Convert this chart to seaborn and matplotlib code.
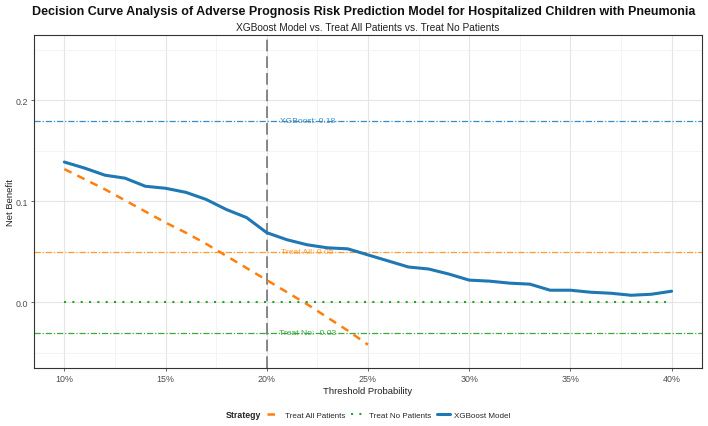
import numpy as np
import pandas as pd
import matplotlib
matplotlib.use("Agg")
import matplotlib.pyplot as plt
import seaborn as sns
from matplotlib.lines import Line2D

# ---- data ----
thresholds = [10, 11, 12, 13, 14, 15, 16, 17, 18, 19, 20, 21, 22, 23, 24, 25,
              26, 27, 28, 29, 30, 31, 32, 33, 34, 35, 36, 37, 38, 39, 40]
xgb_nb = [0.139, 0.133, 0.126, 0.123, 0.115, 0.113, 0.109, 0.102, 0.092, 0.084,
          0.069, 0.062, 0.057, 0.054, 0.053, 0.047, 0.041, 0.035, 0.033, 0.028,
          0.022, 0.021, 0.019, 0.018, 0.012, 0.012, 0.010, 0.009, 0.007, 0.008, 0.011]
all_thresholds = [10, 11, 12, 13, 14, 15, 16, 17, 18, 19, 20, 21, 22, 23, 24, 25]
treat_all_nb = [0.132, 0.122, 0.112, 0.101, 0.090, 0.079, 0.069, 0.058, 0.046,
                0.034, 0.022, 0.010, -0.002, -0.015, -0.028, -0.042]
treat_none_nb = [0.0] * len(thresholds)
ref_labels = ["XGBoost: 0.18", "Treat All: 0.05", "Treat No: -0.03"]
ref_values = [0.18, 0.05, -0.03]
vline_x = 20
x_ticks = [10, 15, 20, 25, 30, 35, 40]
x_ticklabels = ["10%", "15%", "20%", "25%", "30%", "35%", "40%"]
y_ticks = [0.0, 0.1, 0.2]
y_ticklabels = ["0.0", "0.1", "0.2"]

c_blue = "#1f77b4"
c_orange = "#ff7f0e"
c_green = "#2ca02c"

sns.set_theme(style="whitegrid")
plt.rcParams["font.family"] = ["Liberation Sans", "DejaVu Sans"]

fig = plt.figure(figsize=(7.08, 4.27), dpi=100)
ax = fig.add_axes([0.048, 0.136, 0.9435, 0.78])

df_xgb = pd.DataFrame({"t": thresholds, "nb": xgb_nb})
df_all = pd.DataFrame({"t": all_thresholds, "nb": treat_all_nb})
df_none = pd.DataFrame({"t": thresholds, "nb": treat_none_nb})

# reference lines
ref_line_colors = ["#3a8cc4", "#ff9a30", "#3aaa3a"]
for lab, v, c in zip(ref_labels, ref_values, ref_line_colors):
    ax.axhline(v, color=c, lw=0.9, ls=(0, (5, 1.5, 1, 1.5)), zorder=2)
    ax.text(22, v, lab, color=c, fontsize=6.1, ha="center", va="center", zorder=3)

ax.axvline(vline_x, color="#737373", lw=1.2, ls=(0, (7, 3)), zorder=2)

sns.lineplot(data=df_all, x="t", y="nb", ax=ax, color=c_orange, lw=1.8,
             linestyle=(0, (3.2, 2.6)), zorder=4)
sns.lineplot(data=df_none, x="t", y="nb", ax=ax, color=c_green, lw=1.5,
             linestyle=(0, (1, 3)), zorder=4)
sns.lineplot(data=df_xgb, x="t", y="nb", ax=ax, color=c_blue, lw=2.2, zorder=5)

ax.set_xlim(8.5, 41.5)
ax.set_ylim(-0.065, 0.265)
ax.set_xticks(x_ticks)
ax.set_xticklabels(x_ticklabels)
ax.set_yticks(y_ticks)
ax.set_yticklabels(y_ticklabels)
ax.set_xticks([12.5, 17.5, 22.5, 27.5, 32.5, 37.5], minor=True)
ax.set_yticks([-0.05, 0.05, 0.15, 0.25], minor=True)
ax.grid(which="major", color="#e5e5e5", lw=0.8)
ax.grid(which="minor", color="#f0f0f0", lw=0.5)
ax.tick_params(axis="both", which="major", labelsize=6.4, colors="#4d4d4d",
               length=2.5, width=0.6, pad=2, left=True, bottom=True)
ax.tick_params(which="minor", length=0)
for s in ax.spines.values():
    s.set_color("#333333")
    s.set_linewidth(0.8)

ax.set_xlabel("Threshold Probability", fontsize=6.8, color="#222222", labelpad=2)
ax.set_ylabel("Net Benefit", fontsize=6.8, color="#222222", labelpad=0.5)

fig.text(0.513, 0.971, "Decision Curve Analysis of Adverse Prognosis Risk Prediction Model for Hospitalized Children with Pneumonia",
         ha="center", va="center", fontsize=9.0, fontweight="bold", color="#111111")
fig.text(0.52, 0.934, "XGBoost Model vs. Treat All Patients vs. Treat No Patients",
         ha="center", va="center", fontsize=7.3, color="#222222")

handles = [
    Line2D([], [], color=c_orange, lw=1.8, ls=(0, (3, 2.5))),
    Line2D([], [], color=c_green, lw=1.5, ls=(0, (1, 3))),
    Line2D([], [], color=c_blue, lw=2.2),
]
labels = ["Treat All Patients", "Treat No Patients", "XGBoost Model"]
fig.text(0.319, 0.026, "Strategy", fontsize=6.3, fontweight="bold", ha="left", va="center")
fig.legend(handles, labels, ncol=3, loc="center left", bbox_to_anchor=(0.372, 0.026),
           frameon=False, fontsize=5.8, handlelength=1.6, columnspacing=0.7,
           handletextpad=0.6, borderpad=0)

fig.savefig("out.png", dpi=100)
